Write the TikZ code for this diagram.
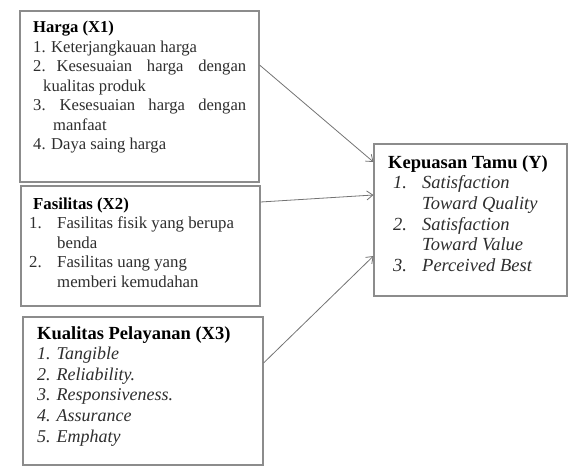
\documentclass[tikz,border=0pt]{standalone}
\usepackage{fontspec}
\setmainfont{Liberation Serif}
\usetikzlibrary{arrows.meta}
\tikzset{
  box/.style={draw=black!45, line width=1.1pt, fill=white, inner sep=0pt},
  txt/.style={anchor=base west, inner sep=0pt, align=left, text=black!82},
  arr/.style={draw=black!55, line width=0.8pt, -{Straight Barb[length=6pt,width=9pt]}}
}
\newcommand{\lbl}[2]{\makebox[#1][l]{#2}}
\begin{document}
\begin{tikzpicture}[x=1pt,y=-1pt]
\useasboundingbox (0,0) rectangle (569,468);
% boxes
\node[box, minimum width=239pt, minimum height=171pt] (harga) at (139.5,96.5) {};
\node[box, minimum width=239pt, minimum height=120pt] (fas) at (140.5,246) {};
\node[box, minimum width=240pt, minimum height=148pt] (kual) at (143,391) {};
\node[box, minimum width=193pt, minimum height=152pt] (kep) at (470.5,220) {};
% texts
\node[txt] (t1) at (33,33) {\fontsize{16.6}{19.5}\selectfont
\parbox[t]{215pt}{\textcolor{black}{\textbf{Harga (X1)}}\\
1. Keterjangkauan harga\\
\makebox[213pt][l]{2.\hspace{11pt}Kesesuaian\hfill harga\hfill dengan}\\
\hspace*{10pt}kualitas produk\\
\makebox[213pt][l]{3.\hspace{14pt}Kesesuaian\hfill harga\hfill dengan}\\
\hspace*{20pt}manfaat\\
4. Daya saing harga}};
\node[txt] (t2) at (29,209) {\fontsize{16.8}{19.5}\selectfont
\parbox[t]{225pt}{\hspace*{4pt}\textcolor{black}{\textbf{Fasilitas (X2)}}\\
\lbl{28pt}{1.}Fasilitas fisik yang berupa\\
\hspace*{28pt}benda\\
\lbl{28pt}{2.}Fasilitas uang yang\\
\hspace*{28pt}memberi kemudahan}};
\node[txt] (t3) at (37,339) {\fontsize{18}{20.6}\selectfont
\parbox[t]{220pt}{\textcolor{black}{\fontsize{18.5}{20.6}\selectfont\textbf{Kualitas Pelayanan (X3)}}\\
\textit{1. Tangible}\\
\textit{2. Reliability.}\\
\textit{3. Responsiveness.}\\
\textit{4. Assurance}\\
\textit{5. Emphaty}}};
\node[txt] (t4) at (388,168) {\fontsize{18.5}{20.7}\selectfont
\parbox[t]{175pt}{\textcolor{black}{\textbf{Kepuasan Tamu (Y)}}\\
\hspace*{5pt}\lbl{29pt}{\textit{1.}}\textit{Satisfaction}\\
\hspace*{34pt}\textit{Toward Quality}\\
\hspace*{5pt}\lbl{29pt}{\textit{2.}}\textit{Satisfaction}\\
\hspace*{34pt}\textit{Toward Value}\\
\hspace*{5pt}\lbl{29pt}{\textit{3.}}\textit{Perceived Best}}};
% connectors
\draw[arr] (harga.east |- 0,65) -- (kep.west |- 0,162);
\draw[arr] (fas.east |- 0,202) -- (kep.west |- 0,195);
\draw[arr] (kual.east |- 0,363) -- (kep.west |- 0,256);
\end{tikzpicture}
\end{document}
